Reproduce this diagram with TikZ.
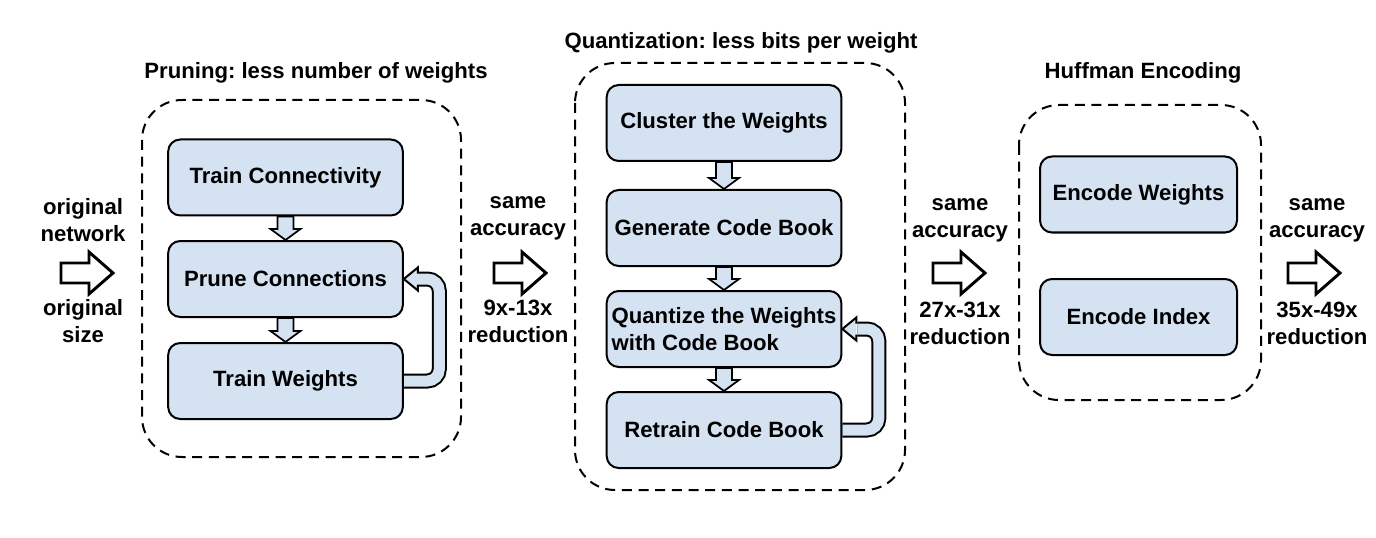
\documentclass[tikz,border=0pt]{standalone}
\usepackage{fontspec}
\setmainfont{Liberation Sans}
\usepackage{tikz}
\usetikzlibrary{calc}
\usepackage{xcolor}

\definecolor{boxblue}{RGB}{213,226,242}
\newcommand\stepfont{\fontsize{16.6}{20.2}\selectfont\bfseries\frenchspacing}
\pgfdeclarelayer{background}
\pgfsetlayers{background,main}

\tikzset{
  stepbox/.style={draw, line width=1.5pt, rounded corners=9pt, fill=boxblue, minimum width=176pt, minimum height=57pt, font=\stepfont, align=center, inner sep=2pt},
  encbox/.style={stepbox, minimum width=147.75pt},
  groupbox/.style={draw, line width=1.5pt, dash pattern=on 7.5pt off 5pt, rounded corners=30pt},
  grouptitle/.style={font=\stepfont},
  ratio/.style={font=\stepfont, align=center, inner sep=0pt},
  blockarrow/.style={draw, line width=1.3pt, fill=boxblue, line join=miter},
  loopshaft/.style={line width=1.5pt, double=boxblue, double distance=8.25pt, rounded corners=9pt},
  hollowarrow/.style={draw, line width=2.2pt, fill=white, line join=miter}
}

\begin{document}
\begin{tikzpicture}[x=0.75pt,y=0.75pt,yscale=-1,xscale=1]
\useasboundingbox (0,0) rectangle (1376,538);

% Pruning
\draw[groupbox] (142,100) rectangle (461,457);
\node[grouptitle] (prunetitle) at (316,73) {Pruning: less number of weights};
\node[stepbox] (trainconn) at (285.5,177.5) {Train Connectivity};
\node[stepbox] (prune) at (285.5,279) {Prune Connections};
\node[stepbox] (trainw) at (285.5,381) {Train Weights};

% Quantization
\draw[groupbox] (575,63) rectangle (905,490);
\node[grouptitle] (quanttitle) at (741,43) {Quantization: less bits per weight};
\node[stepbox] (cluster) at (724,123) {Cluster the Weights};
\node[stepbox] (codebook) at (724,228) {Generate Code Book};
\node[stepbox, align=left] (quantize) at (724,329) {Quantize the Weights\\with Code Book};
\node[stepbox] (retrain) at (724,430) {Retrain Code Book};

% Huffman Encoding
\draw[groupbox] (1019,105) rectangle (1261,400);
\node[grouptitle] (hufftitle) at (1143,73) {Huffman Encoding};
\node[encbox] (encw) at (1138.5,194.5) {Encode Weights};
\node[encbox] (enci) at (1138.5,317) {Encode Index};

% Down arrows and retrain loops
\begin{pgfonlayer}{background}
\foreach \a/\b in {trainconn/prune, prune/trainw, cluster/codebook, codebook/quantize, quantize/retrain}
  \draw[blockarrow] ($(\a.south)+(-8,0)$) -- ($(\b.north)+(-8,-11)$) -- ($(\b.north)+(-15,-11)$) -- (\b.north)
    -- ($(\b.north)+(15,-11)$) -- ($(\b.north)+(8,-11)$) -- ($(\a.south)+(8,0)$) -- cycle;
\foreach \a/\b/\d in {trainw/prune/35.5, retrain/quantize/36.5} {
  \draw[loopshaft] (\a.east) -- ++(\d,0) |- ($(\b.east)+(15,0)$);
  \fill[boxblue] ($(\b.east)+(14,-11.5)$) -- (\b.east) -- ($(\b.east)+(14,11.5)$) -- cycle;
  \draw[line width=1.5pt, line join=miter] ($(\b.east)+(14,-5.5)$) -- ($(\b.east)+(14,-11.5)$) -- (\b.east)
    -- ($(\b.east)+(14,11.5)$) -- ($(\b.east)+(14,5.5)$);
}
\end{pgfonlayer}

% Ratios between the stages
\foreach \ax in {61,494,933,1288}
  \draw[hollowarrow] (\ax,263) -- ++(28,0) -- ++(0,-11) -- ++(24,21) -- ++(-24,21) -- ++(0,-11) -- ++(-28,0) -- cycle;
\node[ratio] (orignet) at (83,220) {original\\network};
\node[ratio] (origsize) at (83,321.5) {original\\size};
\node[ratio] (acc1) at (518,218) {same\\accuracy};
\node[ratio] (red1) at (518,321) {9x-13x\\reduction};
\node[ratio] (acc2) at (960,220) {same\\accuracy};
\node[ratio] (red2) at (960,323.5) {27x-31x\\reduction};
\node[ratio] (acc3) at (1317,220) {same\\accuracy};
\node[ratio] (red3) at (1317,323.5) {35x-49x\\reduction};

\end{tikzpicture}
\end{document}
